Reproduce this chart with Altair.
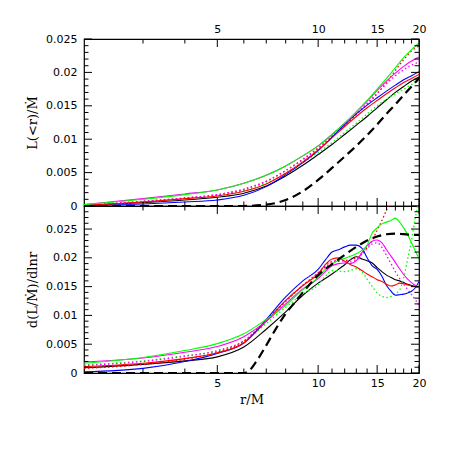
import altair as alt
import pandas as pd

# ---------------- data ----------------
R_TOP = [2, 3, 4, 5, 6, 7, 8, 9, 10, 11, 12, 13, 14, 15, 16, 17, 18, 19, 20]
TOP_BLACK = [0.0001, 0.0005, 0.0009, 0.0013, 0.0019, 0.0030, 0.0045, 0.0061, 0.0077, 0.0092, 0.0107, 0.0121, 0.0134, 0.0147, 0.0159, 0.0170, 0.0179, 0.0187, 0.0193]
TOP_GREEN_DOT = [0.0001, 0.0006, 0.0011, 0.0016, 0.0023, 0.0034, 0.0049, 0.0065, 0.0080, 0.0095, 0.0110, 0.0124, 0.0138, 0.0150, 0.0160, 0.0168, 0.0175, 0.0182, 0.0190]
TOP_RED_DOT = [0.0001, 0.0007, 0.0012, 0.0017, 0.0025, 0.0037, 0.0053, 0.0070, 0.0087, 0.0104, 0.0121, 0.0137, 0.0152, 0.0168, 0.0185, 0.0203, 0.0219, 0.0232, 0.0240]
TOP_MAGENTA_DOT = [0.0001, 0.0007, 0.0012, 0.0017, 0.0025, 0.0037, 0.0053, 0.0069, 0.0086, 0.0104, 0.0121, 0.0138, 0.0154, 0.0169, 0.0183, 0.0195, 0.0204, 0.0211, 0.0215]
TOP_BLUE = [0.00002, 0.0003, 0.0006, 0.0009, 0.0016, 0.0029, 0.0047, 0.0065, 0.0083, 0.0103, 0.0122, 0.0138, 0.0151, 0.0162, 0.0172, 0.0181, 0.0189, 0.0195, 0.0201]
TOP_RED = [0.0001, 0.0006, 0.0011, 0.0015, 0.0022, 0.0033, 0.0049, 0.0066, 0.0084, 0.0102, 0.0119, 0.0134, 0.0147, 0.0158, 0.0168, 0.0177, 0.0185, 0.0191, 0.0197]
TOP_MAGENTA = [0.0002, 0.0011, 0.0018, 0.0024, 0.0034, 0.0046, 0.0060, 0.0075, 0.0090, 0.0107, 0.0124, 0.0141, 0.0157, 0.0173, 0.0187, 0.0199, 0.0209, 0.0217, 0.0223]
TOP_GREEN = [0.0002, 0.0010, 0.0017, 0.0024, 0.0034, 0.0046, 0.0060, 0.0075, 0.0090, 0.0107, 0.0124, 0.0141, 0.0158, 0.0175, 0.0191, 0.0207, 0.0222, 0.0234, 0.0244]
TOP_DASH = [0, 0, 0, 0, 0, 0.0002, 0.0009, 0.0022, 0.0039, 0.0057, 0.0074, 0.0090, 0.0106, 0.0122, 0.0138, 0.0152, 0.0166, 0.0179, 0.0191]

R_BOT = [2, 3, 4, 5, 6, 7, 8, 9, 10, 10.5, 11, 11.5, 12, 12.5, 13, 13.5, 14, 14.5, 15, 15.5, 16, 16.5, 17, 17.5, 18, 18.5, 19, 19.5, 20]
BOT_BLACK = [0.0009, 0.0015, 0.0021, 0.0028, 0.0045, 0.0076, 0.0106, 0.0135, 0.0156, 0.0164, 0.0172, 0.0180, 0.0188, 0.0197, 0.0202, 0.0198, 0.0195, 0.0191, 0.0183, 0.0176, 0.0170, 0.0166, 0.0162, 0.0160, 0.0157, 0.0154, 0.0152, 0.0150, 0.0149]
BOT_GREEN_DOT = [0.0014, 0.0021, 0.0030, 0.0038, 0.0055, 0.0086, 0.0114, 0.0137, 0.0153, 0.0168, 0.0178, 0.0177, 0.0176, 0.0178, 0.0181, 0.0176, 0.0163, 0.0150, 0.0139, 0.0133, 0.0131, 0.0133, 0.0138, 0.0144, 0.0165, 0.0198, 0.0231, 0.0270, 0.0300]
BOT_MAGENTA_DOT = [0.0013, 0.0020, 0.0029, 0.0039, 0.0056, 0.0090, 0.0124, 0.0152, 0.0174, 0.0186, 0.0194, 0.0196, 0.0195, 0.0193, 0.0196, 0.0206, 0.0216, 0.0224, 0.0226, 0.0218, 0.0204, 0.0190, 0.0176, 0.0164, 0.0154, 0.0145, 0.0136, 0.0127, 0.0118]
BOT_BLUE = [0.0002, 0.0008, 0.0020, 0.0034, 0.0052, 0.0093, 0.0132, 0.0160, 0.0180, 0.0196, 0.0210, 0.0214, 0.0219, 0.0222, 0.0222, 0.0217, 0.0200, 0.0186, 0.0180, 0.0168, 0.0152, 0.0142, 0.0135, 0.0136, 0.0137, 0.0139, 0.0142, 0.0148, 0.0159]
BOT_RED = [0.0011, 0.0017, 0.0025, 0.0035, 0.0052, 0.0090, 0.0126, 0.0152, 0.0172, 0.0188, 0.0198, 0.0200, 0.0194, 0.0188, 0.0184, 0.0178, 0.0172, 0.0167, 0.0162, 0.0159, 0.0154, 0.0151, 0.0153, 0.0156, 0.0155, 0.0153, 0.0151, 0.0150, 0.0149]
BOT_MAGENTA = [0.0019, 0.0026, 0.0036, 0.0046, 0.0063, 0.0090, 0.0120, 0.0146, 0.0164, 0.0176, 0.0186, 0.0190, 0.0191, 0.0190, 0.0195, 0.0209, 0.0221, 0.0229, 0.0231, 0.0226, 0.0214, 0.0203, 0.0192, 0.0181, 0.0171, 0.0163, 0.0157, 0.0152, 0.0148]
BOT_GREEN = [0.0017, 0.0027, 0.0039, 0.0051, 0.0068, 0.0093, 0.0117, 0.0145, 0.0166, 0.0180, 0.0189, 0.0196, 0.0199, 0.0203, 0.0207, 0.0213, 0.0222, 0.0243, 0.0252, 0.0259, 0.0262, 0.0265, 0.0269, 0.0262, 0.0252, 0.0240, 0.0226, 0.0212, 0.0199]

R_BOT_RED_DOT = [2, 3, 4, 5, 6, 7, 8, 9, 10, 10.5, 11, 11.5, 12, 12.5, 13, 13.5, 14, 14.5, 15, 15.5, 16, 16.5, 17]
BOT_RED_DOT = [0.0008, 0.0015, 0.0024, 0.0036, 0.0055, 0.0092, 0.0125, 0.0152, 0.0174, 0.0184, 0.0192, 0.0194, 0.0195, 0.0197, 0.0200, 0.0207, 0.0218, 0.0230, 0.0248, 0.0265, 0.0283, 0.0300, 0.0318]

R_BOT_DASH = [2, 6, 6.2, 6.5, 7, 7.5, 8, 8.5, 9, 9.5, 10, 11, 12, 13, 14, 15, 16, 17, 18, 19, 20]
BOT_DASH = [0, 0, 0.0003, 0.0018, 0.0048, 0.0078, 0.0103, 0.0122, 0.0140, 0.0156, 0.0170, 0.0189, 0.0205, 0.0219, 0.0230, 0.0237, 0.0241, 0.0242, 0.0241, 0.0240, 0.0240]

# tick values
X_LABELS = [5, 10, 15, 20]
X_MINOR = [3, 4, 6, 7, 8, 9, 11, 12, 13, 14, 16, 17, 18, 19]
Y_LABELS = [0, 0.005, 0.01, 0.015, 0.02, 0.025]
Y_MINOR_TOP = [0.001, 0.002, 0.003, 0.004, 0.006, 0.007, 0.008, 0.009, 0.011, 0.012, 0.013, 0.014,
               0.016, 0.017, 0.018, 0.019, 0.021, 0.022, 0.023, 0.024]
Y_MINOR_BOT = Y_MINOR_TOP + [0.026, 0.027, 0.028]

# ---------------- styles ----------------
DOT = [1.5, 2.5]
DASH = [9, 5]
TOP_SERIES = [
    (R_TOP, TOP_BLACK, "#000000", None, 1.1),
    (R_TOP, TOP_GREEN_DOT, "#00ff00", DOT, 1.3),
    (R_TOP, TOP_RED_DOT, "#ff0000", DOT, 1.3),
    (R_TOP, TOP_MAGENTA_DOT, "#ff00ff", DOT, 1.3),
    (R_TOP, TOP_BLUE, "#0000ff", None, 1.1),
    (R_TOP, TOP_RED, "#ff0000", None, 1.1),
    (R_TOP, TOP_MAGENTA, "#ff00ff", None, 1.1),
    (R_TOP, TOP_GREEN, "#00ff00", None, 1.1),
    (R_TOP, TOP_DASH, "#000000", DASH, 2.2),
]
BOT_SERIES = [
    (R_BOT, BOT_BLACK, "#000000", None, 1.1),
    (R_BOT, BOT_GREEN_DOT, "#00ff00", DOT, 1.3),
    (R_BOT_RED_DOT, BOT_RED_DOT, "#ff0000", DOT, 1.3),
    (R_BOT, BOT_MAGENTA_DOT, "#ff00ff", DOT, 1.3),
    (R_BOT, BOT_BLUE, "#0000ff", None, 1.1),
    (R_BOT, BOT_RED, "#ff0000", None, 1.1),
    (R_BOT, BOT_MAGENTA, "#ff00ff", None, 1.1),
    (R_BOT, BOT_GREEN, "#00ff00", None, 1.1),
    (R_BOT_DASH, BOT_DASH, "#000000", DASH, 2.2),
]

W = 335
H = 167
MAJ = 8
MIN = 4.5


def panel(series, ydomain, yminor, xaxis, yaxis):
    xs = alt.Scale(type="log", domain=[2, 20], nice=False)
    ys = alt.Scale(domain=ydomain, nice=False, zero=False)
    layers = []
    for rs, vs, color, dash, width in series:
        d = pd.DataFrame({"r": rs, "v": vs})
        kw = dict(color=color, strokeWidth=width, clip=True, interpolate="monotone")
        if dash is not None:
            kw["strokeDash"] = dash
        layers.append(alt.Chart(d).mark_line(**kw).encode(
            x=alt.X("r:Q", scale=xs, axis=xaxis),
            y=alt.Y("v:Q", scale=ys, axis=yaxis),
        ))
    # tick marks drawn inward on all four sides
    for vals, ln in ((Y_LABELS, MAJ), (yminor, MIN)):
        d = pd.DataFrame({"v": vals})
        for x1, x2 in ((0, ln), (W - ln, W)):
            layers.append(alt.Chart(d).mark_rule(color="black", strokeWidth=1).encode(
                y=alt.Y("v:Q", scale=ys, axis=yaxis), x=alt.value(x1), x2=alt.value(x2)))
    for vals, ln in ((X_LABELS, MAJ), (X_MINOR, MIN)):
        d = pd.DataFrame({"r": vals})
        for y1, y2 in ((0, ln), (H - ln, H)):
            layers.append(alt.Chart(d).mark_rule(color="black", strokeWidth=1).encode(
                x=alt.X("r:Q", scale=xs, axis=xaxis), y=alt.value(y1), y2=alt.value(y2)))
    return alt.layer(*layers).properties(width=W, height=H)


top = panel(
    TOP_SERIES, [0, 0.025], Y_MINOR_TOP,
    alt.Axis(orient="top", values=X_LABELS, title=None, labelPadding=5),
    alt.Axis(orient="left", values=Y_LABELS, format="~g", title="L(<r)/Ṁ", labelPadding=7, titlePadding=6),
)
bottom = panel(
    BOT_SERIES, [0, 0.029], Y_MINOR_BOT,
    alt.Axis(orient="bottom", values=X_LABELS, title="r/M", labelPadding=4, titlePadding=5),
    alt.Axis(orient="left", values=Y_LABELS, format="~g", title="d(L/Ṁ)/dlnr", labelPadding=7, titlePadding=6),
)

chart = alt.vconcat(top, bottom, spacing=0, bounds="flush").properties(
    padding={"left": 17, "top": 14, "right": 5, "bottom": 5},
    background="white",
).configure_view(
    stroke="black", strokeWidth=1.2
).configure_axis(
    grid=False, ticks=False, domain=False, tickSize=0,
    labelFont="DejaVu Sans", labelFontSize=11, labelColor="black",
    labelFlush=False, labelOverlap=False,
    titleFont="DejaVu Serif", titleFontSize=13, titleFontWeight="normal", titleColor="black",
)

chart.save("out.html", embed_options={"renderer": "svg", "actions": False})
